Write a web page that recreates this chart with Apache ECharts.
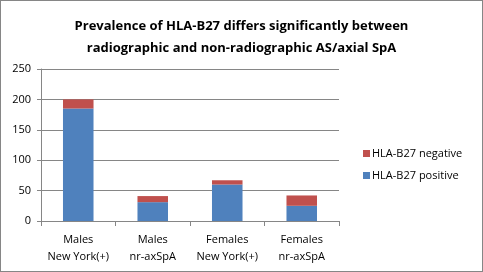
<!DOCTYPE html>
<html>
<head>
<meta charset="utf-8">
<script src="https://cdn.jsdelivr.net/npm/echarts@6/dist/echarts.min.js"></script>
<style>
  html, body { margin: 0; padding: 0; background: #fff; }
  #chart { width: 481px; height: 270px; border: 1px solid #868686; }
</style>
</head>
<body>
<div id="chart"></div>
<script>
  // data
  var categories = ['Males\nNew York(+)', 'Males\nnr-axSpA', 'Females\nNew York(+)', 'Females\nnr-axSpA']
  var positive = [185, 31, 60, 25]
  var negative = [15, 10, 7, 17]
  var yTicks = { min: 0, max: 250, interval: 50 }

  var chart = echarts.init(document.getElementById('chart'))
  var font = 'Open Sans, Liberation Sans, sans-serif'
  chart.setOption({
    animation: false,
    title: {
      text: 'Prevalence of HLA-B27 differs significantly between\nradiographic and non-radiographic AS/axial SpA',
      left: 'center',
      top: 9,
      textStyle: {
        fontFamily: font,
        fontSize: 13,
        fontWeight: 'bold',
        color: '#000',
        lineHeight: 22
      }
    },
    legend: {
      orient: 'vertical',
      left: 357,
      top: 142,
      itemWidth: 7,
      itemHeight: 7,
      itemGap: 11,
      icon: 'rect',
      data: ['HLA-B27 negative', 'HLA-B27 positive'],
      textStyle: { fontFamily: font, fontSize: 11, color: '#000', padding: [0, 0, 0, -3] }
    },
    grid: { left: 40, right: 143, top: 68, bottom: 50 },
    xAxis: {
      type: 'category',
      data: categories,
      axisLine: { lineStyle: { color: '#868686' } },
      axisTick: { show: true, length: 5, lineStyle: { color: '#868686' } },
      axisLabel: { interval: 0, fontFamily: font, fontSize: 11, color: '#000', lineHeight: 17, margin: 10 }
    },
    yAxis: {
      type: 'value',
      min: yTicks.min,
      max: yTicks.max,
      interval: yTicks.interval,
      axisLine: { show: true, lineStyle: { color: '#868686' } },
      axisTick: { show: true, length: 4, lineStyle: { color: '#868686' } },
      axisLabel: { fontFamily: font, fontSize: 11, color: '#000', margin: 10 },
      splitLine: { lineStyle: { color: '#868686' } }
    },
    series: [
      {
        name: 'HLA-B27 positive',
        type: 'bar',
        stack: 'total',
        barWidth: '41%',
        data: positive,
        itemStyle: { color: '#4f81bd' }
      },
      {
        name: 'HLA-B27 negative',
        type: 'bar',
        stack: 'total',
        data: negative,
        itemStyle: { color: '#c0504d' }
      }
    ]
  })
</script>
</body>
</html>
